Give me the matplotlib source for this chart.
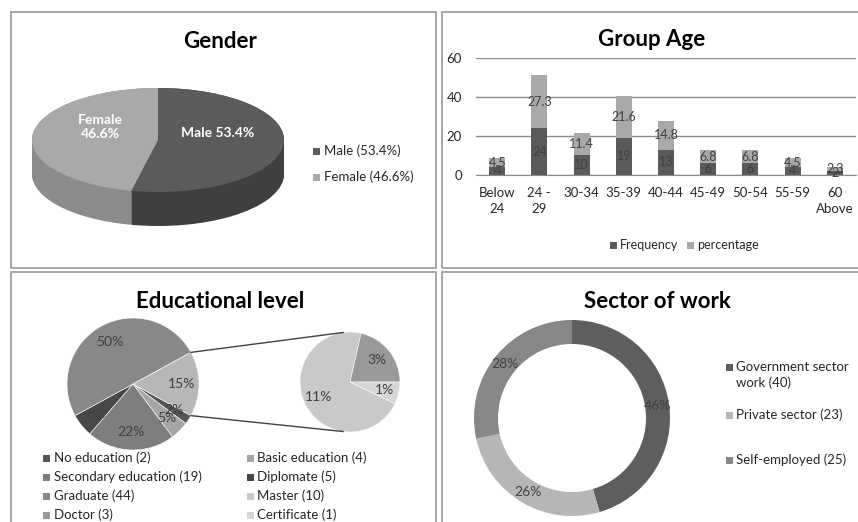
import numpy as np
import matplotlib.pyplot as plt
from matplotlib.patches import Rectangle

plt.rcParams['font.family'] = ['Lato', 'DejaVu Sans']

W, H = 858, 522

# Gender
gender_names = ['Male', 'Female']
gender_pct = [53.4, 46.6]

# Group Age
age_groups = ['Below\n24', '24 -\n29', '30-34', '35-39', '40-44', '45-49',
              '50-54', '55-59', '60\nAbove']
age_freq = [4, 24, 10, 19, 13, 6, 6, 4, 2]
age_pct = [4.5, 27.3, 11.4, 21.6, 14.8, 6.8, 6.8, 4.5, 2.3]

# Educational level (last three go to the small pie)
edu_names = ['No education', 'Basic education', 'Secondary education', 'Diplomate',
             'Graduate', 'Master', 'Doctor', 'Certificate']
edu_counts = [2, 4, 19, 5, 44, 10, 3, 1]
edu_main_labels = ['2%', '5%', '22%', '6%', '50%', '15%']
edu_sub_labels = ['11%', '3%', '1%']

# Sector of work
sector_names = ['Government sector\nwork', 'Private sector', 'Self-employed']
sector_counts = [40, 23, 25]
sector_labels = ['46%', '26%', '28%']

TXT = '#262626'
LBL = '#404040'

fig = plt.figure(figsize=(W / 100, H / 100), dpi=100)
fig.patch.set_facecolor('white')

# overlay axes in pixel coordinates (y measured from the top via Y())
ax0 = fig.add_axes([0, 0, 1, 1])
ax0.set_zorder(2)


def Y(y):
    return H - y


def label_wedges(ax, wedges, texts, dist, **kw):
    for w, t in zip(wedges, texts):
        ang = np.deg2rad((w.theta1 + w.theta2) / 2)
        r = w.r * dist
        ax.text(w.center[0] + r * np.cos(ang), w.center[1] + r * np.sin(ang), t,
                ha='center', va='center', **kw)


def legend_entry(x, y, color, text, size=9.5, step=16):
    # square marker + text; multi-line text continues below the marker line
    ax0.add_patch(Rectangle((x - 3.5, Y(y) - 3.5), 7, 7, color=color, lw=0))
    for k, ln in enumerate(text.split('\n')):
        ax0.text(x + 7, Y(y + step * k), ln, ha='left', va='center',
                 fontsize=size, color=TXT)


# panel frames
for (x0, y0, x1, y1) in [(11, 12, 436, 268), (442, 12, 875, 268),
                         (11, 272, 436, 540), (442, 272, 875, 540)]:
    ax0.add_patch(Rectangle((x0, Y(y1)), x1 - x0, y1 - y0, fill=False,
                            ec='#a0a0a0', lw=1.3, zorder=0))

# ---------------- Gender (3D pie) ----------------
ax_g = fig.add_axes([18 / W, 1 - 250 / H, 280 / W, 180 / H])
g_top = ['#5b5b5b', '#a9a9a9']
g_side = ['#3f3f3f', '#8c8c8c']
depth = 34 / 52
for dy in np.linspace(-depth, 0, 40):
    ax_g.pie(gender_pct, center=(0, dy), colors=g_side, startangle=90,
             counterclock=False, wedgeprops=dict(linewidth=0))
ax_g.pie(gender_pct, colors=g_top, startangle=90, counterclock=False,
         wedgeprops=dict(linewidth=0))
ax_g.set_aspect('auto')
ax_g.set_xlim(-140 / 126, 140 / 126)
ax_g.set_ylim(-110 / 52, 70 / 52)
ax_g.axis('off')

ax0.text(218, Y(133), f'{gender_names[0]} {gender_pct[0]}%', color='white',
         fontsize=10, fontweight='bold', ha='center', va='center')
ax0.text(100, Y(127), f'{gender_names[1]}\n{gender_pct[1]}%', color='white',
         fontsize=10, fontweight='bold', ha='center', va='center', linespacing=1.3)
ax0.text(220, Y(42), 'Gender', fontsize=16, fontweight='bold', ha='center', va='center')
for name, v, c, yy in zip(gender_names, gender_pct, g_top, [151, 177]):
    legend_entry(316.5, yy, c, f'{name} ({v}%)')

# ---------------- Group Age (stacked bars) ----------------
ax_b = fig.add_axes([476 / W, 1 - 175 / H, 380 / W, 117 / H])
ax_b.patch.set_alpha(0)
x = np.arange(len(age_groups))
b1 = ax_b.bar(x, age_freq, width=0.38, color='#5a5a5a')
b2 = ax_b.bar(x, age_pct, width=0.38, bottom=age_freq, color='#a9a9a9')
ax_b.bar_label(b1, fmt='%g', label_type='center', fontsize=9, color=LBL)
ax_b.bar_label(b2, fmt='%g', label_type='center', fontsize=9, color=LBL)
ax_b.set_xlim(-0.5, len(age_groups) - 0.5)
ax_b.set_ylim(0, 60)
ax_b.set_yticks([0, 20, 40, 60])
ax_b.set_xticks(x)
ax_b.set_xticklabels(age_groups, linespacing=1.35)
ax_b.yaxis.grid(True, color='#8c8c8c', lw=1)
ax_b.set_axisbelow(True)
for s in ['left', 'right', 'top']:
    ax_b.spines[s].set_visible(False)
ax_b.spines['bottom'].set_color('#8c8c8c')
ax_b.tick_params(length=0, labelsize=9.5, labelcolor=TXT)
ax_b.tick_params(axis='y', pad=10)
ax_b.tick_params(axis='x', pad=9)
ax0.text(652, Y(40), 'Group Age', fontsize=16, fontweight='bold', ha='center', va='center')
legend_entry(613, 245, '#5a5a5a', 'Frequency', size=9)
legend_entry(690, 245, '#a9a9a9', 'percentage', size=9)

# ---------------- Educational level (pie of pie) ----------------
main_vals = edu_counts[:5] + [sum(edu_counts[5:])]
sub_vals = edu_counts[5:]
main_colors = ['#555555', '#a5a5a5', '#7e7e7e', '#484848', '#888888', '#b7b7b7']
sub_colors = ['#c9c9c9', '#999999', '#d6d6d6']
edu_colors = main_colors[:5] + sub_colors

c1, r1 = (133, Y(384)), 66
c2, r2 = (350, Y(382)), 50
half = 180 * main_vals[-1] / sum(main_vals)
w_main, _ = ax0.pie(main_vals, center=c1, radius=r1, colors=main_colors,
                    startangle=-half, counterclock=False,
                    wedgeprops=dict(linewidth=0.4, edgecolor='white'))
w_sub, _ = ax0.pie(sub_vals, center=c2, radius=r2, colors=sub_colors,
                   startangle=-360 * sub_vals[-1] / sum(sub_vals), counterclock=False,
                   wedgeprops=dict(linewidth=0.4, edgecolor='white'))
label_wedges(ax0, w_main, edu_main_labels, 0.73, fontsize=10, color=LBL)
label_wedges(ax0, w_sub, edu_sub_labels, 0.7, fontsize=10, color=LBL)
for sgn in (1, -1):
    a1 = np.deg2rad(sgn * half)
    a2 = np.deg2rad(sgn * 98)
    ax0.plot([c1[0] + r1 * np.cos(a1), c2[0] + r2 * np.cos(a2)],
             [c1[1] + r1 * np.sin(a1), c2[1] + r2 * np.sin(a2)],
             color='#404040', lw=1)
ax0.text(220, Y(302), 'Educational level', fontsize=16, fontweight='bold',
         ha='center', va='center')
rows = [458, 477, 496, 515]
for i, (name, n, c) in enumerate(zip(edu_names, edu_counts, edu_colors)):
    legend_entry([46.5, 250][i % 2], rows[i // 2], c, f'{name} ({n})')

# ---------------- Sector of work (donut) ----------------
sec_colors = ['#5e5e5e', '#b6b6b6', '#878787']
c3, r3 = (572, Y(418)), 98
w_sec, _ = ax0.pie(sector_counts, center=c3, radius=r3, colors=sec_colors,
                   startangle=90, counterclock=False,
                   wedgeprops=dict(width=24, linewidth=0))
label_wedges(ax0, w_sec, sector_labels, (r3 - 12) / r3, fontsize=10, color=LBL)
ax0.text(657, Y(302), 'Sector of work', fontsize=16, fontweight='bold',
         ha='center', va='center')
for name, n, c, yy in zip(sector_names, sector_counts, sec_colors, [367, 415, 460]):
    legend_entry(729.5, yy, c, f'{name} ({n})')

ax0.set_aspect('auto')
ax0.set_xlim(0, W)
ax0.set_ylim(0, H)
ax0.axis('off')

fig.savefig('out.png', dpi=100, facecolor='white')
